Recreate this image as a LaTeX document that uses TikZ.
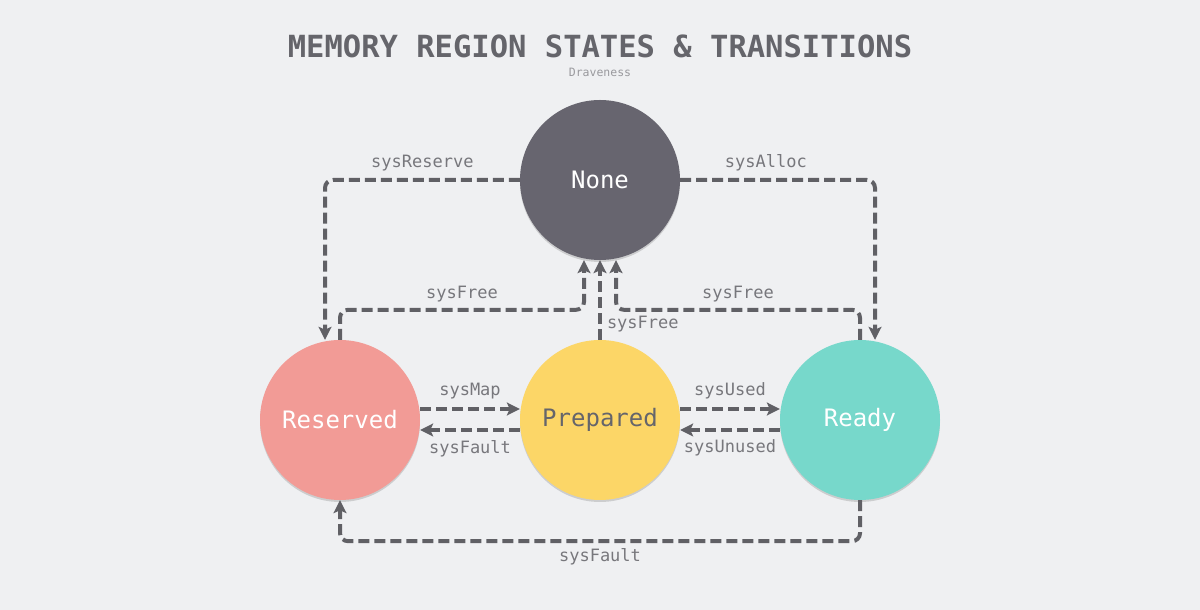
\documentclass[tikz,border=0pt]{standalone}
\usepackage{fontspec}
\setmonofont{DejaVu Sans Mono}
\usetikzlibrary{arrows.meta,shadows}
\definecolor{bgcol}{HTML}{EFF0F2}
\definecolor{textgray}{HTML}{65656B}
\definecolor{labelgray}{HTML}{77777C}
\definecolor{arrowgray}{HTML}{606065}
\definecolor{nonecol}{HTML}{67656F}
\definecolor{reservedcol}{HTML}{F29B96}
\definecolor{preparedcol}{HTML}{FCD667}
\definecolor{readycol}{HTML}{77D8CB}
\tikzset{
    statenode/.style={circle,minimum size=160pt,inner sep=0pt,text=white,
        font=\ttfamily\fontsize{24}{28}\selectfont,
        drop shadow={shadow xshift=0pt,shadow yshift=-2pt,opacity=0.25,fill=black!60}},
    transarrow/.style={arrowgray,line width=4pt,dash pattern=on 11pt off 5pt,
        rounded corners=8pt,-{Stealth[length=13pt,width=13pt,inset=3pt]}},
    translabel/.style={text=labelgray,font=\ttfamily\fontsize{17}{20}\selectfont,inner sep=1pt}
}
\begin{document}
\begin{tikzpicture}[x=1pt,y=1pt]

    % background and page size
    \fill[bgcol] (0,0) rectangle (1200,610);
    \useasboundingbox (0,0) rectangle (1200,610);

    % title
    \node[text=textgray,font=\ttfamily\bfseries\fontsize{30.5}{34}\selectfont] (title) at (600,564) {MEMORY REGION STATES \& TRANSITIONS};
    \node[text=labelgray!75,font=\ttfamily\fontsize{11.5}{14}\selectfont] (author) at (600,538) {Draveness};

    % states
    \node[statenode,fill=nonecol] (none) at (600,430) {None};
    \node[statenode,fill=reservedcol] (reserved) at (340,190) {Reserved};
    \node[statenode,fill=preparedcol,text=textgray] (prepared) at (600,190) {Prepared};
    \node[statenode,fill=readycol] (ready) at (860,190) {Ready};

    % from none
    \draw[transarrow] (none.west) -| node[translabel,pos=0.25,above=6pt] {sysReserve} ([xshift=-15pt]reserved.north);
    \draw[transarrow] (none.east) -| node[translabel,pos=0.22,above=6pt] {sysAlloc} ([xshift=15pt]ready.north);

    % back to none
    \draw[transarrow] (reserved.north) -- ++(0,30) -| node[translabel,pos=0.25,above=5pt] {sysFree} ([xshift=-16pt]none.south);
    \draw[transarrow] (prepared.north) -- node[translabel,pos=0.2,right=4pt] {sysFree} (none.south);
    \draw[transarrow] (ready.north) -- ++(0,30) -| node[translabel,pos=0.25,above=5pt] {sysFree} ([xshift=16pt]none.south);

    % between the lower states
    \draw[transarrow] ([yshift=11pt]reserved.east) -- node[translabel,above=7pt] {sysMap} ([yshift=11pt]prepared.west);
    \draw[transarrow] ([yshift=-10pt]prepared.west) -- node[translabel,below=7pt] {sysFault} ([yshift=-10pt]reserved.east);
    \draw[transarrow] ([yshift=11pt]prepared.east) -- node[translabel,above=7pt] {sysUsed} ([yshift=11pt]ready.west);
    \draw[transarrow] ([yshift=-10pt]ready.west) -- node[translabel,below=7pt] {sysUnused} ([yshift=-10pt]prepared.east);

    % ready back to reserved
    \draw[transarrow] (ready.south) -- ++(0,-41) -| node[translabel,pos=0.25,below=4pt] {sysFault} (reserved.south);

\end{tikzpicture}
\end{document}
